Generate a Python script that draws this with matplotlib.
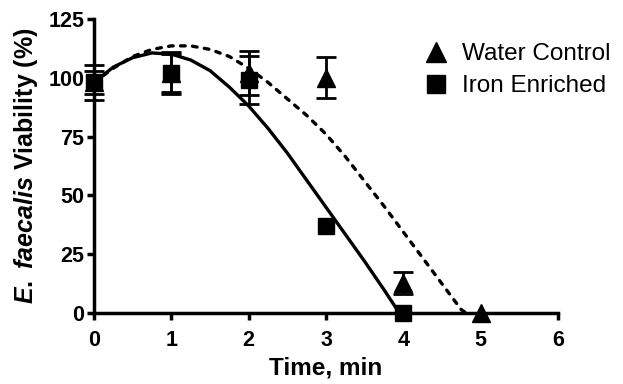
import matplotlib
matplotlib.use("Agg")
import matplotlib.pyplot as plt
from matplotlib.lines import Line2D

plt.rcParams['font.family'] = ['Liberation Sans', 'DejaVu Sans']
plt.rcParams['mathtext.fontset'] = 'custom'
plt.rcParams['mathtext.it'] = 'Liberation Sans:italic:bold'
plt.rcParams['mathtext.rm'] = 'Liberation Sans:bold'
plt.rcParams['mathtext.bf'] = 'Liberation Sans:bold'

# Measured points
time = [0, 1, 2, 3, 4, 5]
water_mean = [98, 102, 102, 100, 13, 0]
water_err = [5, 8, 9.3, 8.8, 4.6, 0]
iron_time = [0, 1, 2, 3, 4]
iron_mean = [98, 102, 99, 37, 0]
iron_err = [7.5, 9, 10, 0, 0]

# Fitted curves
iron_fit_t = [0, 0.25, 0.5, 0.75, 1.0, 1.25, 1.5, 1.75, 2.0, 2.25, 2.5, 2.75,
              3.0, 3.25, 3.5, 3.75, 3.95]
iron_fit_v = [98, 104.5, 108.5, 110.5, 110, 107.5, 103, 96, 88, 78.5, 68, 56.5,
              45, 33.5, 22, 10, 0]
water_fit_t = [0, 0.25, 0.5, 0.75, 1.0, 1.25, 1.5, 1.75, 2.0, 2.25, 2.5, 2.75,
               3.0, 3.25, 3.5, 3.75, 4.0, 4.25, 4.5, 4.75, 4.82]
water_fit_v = [98, 104, 109, 112, 113.5, 113.5, 112, 109, 104, 98, 91, 84,
               76, 66.5, 56, 45.5, 34.5, 23.5, 12.5, 1.5, 0]

xticks = [0, 1, 2, 3, 4, 5, 6]
yticks = [0, 25, 50, 75, 100, 125]

fig = plt.figure(figsize=(6.23, 3.84), dpi=100)
ax = fig.add_axes([0.1509, 0.1841, 0.7448, 0.767])

lw_curve = 2.4
ax.plot(iron_fit_t, iron_fit_v, color='black', lw=lw_curve, solid_capstyle='butt',
        clip_on=False, zorder=3)
ax.plot(water_fit_t, water_fit_v, color='black', lw=lw_curve, dashes=[1.4, 2.2],
        dash_capstyle='round', clip_on=False, zorder=3)


def draw_series(xs, ms, es, marker, msize, z):
    bx = [x for x, e in zip(xs, es) if e > 0]
    bm = [m for m, e in zip(ms, es) if e > 0]
    be = [e for e in es if e > 0]
    eb = ax.errorbar(bx, bm, yerr=be, fmt='none', ecolor='black', capsize=7.5,
                     elinewidth=2, capthick=2, zorder=z)
    for art in list(eb.lines[1]) + list(eb.lines[2]):
        art.set_clip_on(False)
    ax.plot(xs, ms, linestyle='none', marker=marker, color='black',
            markersize=msize, clip_on=False, zorder=z)


draw_series(time, water_mean, water_err, '^', 13, 4)
draw_series(iron_time, iron_mean, iron_err, 's', 12, 5)

ax.set_xlim(0, 6)
ax.set_ylim(0, 125)
ax.set_xticks(xticks)
ax.set_yticks(yticks)
ax.set_xticklabels([str(v) for v in xticks], fontweight='bold', fontsize=15.5)
ax.set_yticklabels([str(v) for v in yticks], fontweight='bold', fontsize=15.5)
ax.tick_params(axis='both', direction='out', length=5, width=2.5, pad=2)
ax.tick_params(axis='x', pad=7)

for side in ['top', 'right']:
    ax.spines[side].set_visible(False)
for side in ['left', 'bottom']:
    ax.spines[side].set_linewidth(2.5)

ax.set_xlabel('Time, min', fontweight='bold', fontsize=17.5, labelpad=4)
ax.set_ylabel(r'$\mathit{E.\ faecalis}$ Viability (%)', fontweight='bold',
              fontsize=18, labelpad=6)

handles = [Line2D([], [], marker='^', color='black', linestyle='none', markersize=14),
           Line2D([], [], marker='s', color='black', linestyle='none', markersize=13)]
leg = ax.legend(handles, ['Water Control', 'Iron Enriched'], loc='upper left',
                bbox_to_anchor=(0.69, 0.95), frameon=False, fontsize=17.5,
                handletextpad=0.55, labelspacing=0.42, handlelength=1.0,
                borderaxespad=0)

fig.savefig('out.png', dpi=100)
